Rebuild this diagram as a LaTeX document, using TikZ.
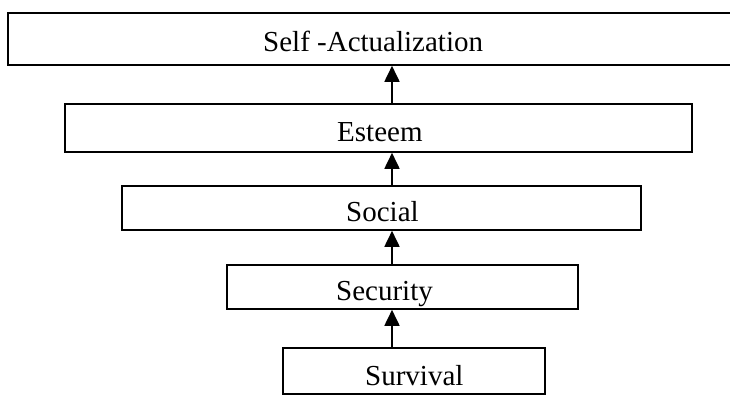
\documentclass[tikz,border=0pt]{standalone}
\usepackage{fontspec}
\setmainfont{Liberation Serif}
\usetikzlibrary{arrows.meta,positioning,calc}

\begin{document}
\begin{tikzpicture}[
    x=1pt, y=-1pt,
    box/.style={draw, rectangle, line width=1.6pt, inner sep=0pt},
    label/.style={anchor=base west, inner sep=0pt, font=\fontsize{29}{34}\selectfont},
    arrow/.style={-{Triangle[length=16pt,width=15pt]}, line width=1.8pt}
  ]
    \useasboundingbox (0,0) rectangle (730,395);
    \coordinate (axis) at (392,0);

    % the five levels, widest on top
    \node[box, minimum width=732pt, minimum height=52pt] (selfact) at (374,39) {};
    \node[box, minimum width=627pt, minimum height=48pt] (esteem) at (378.5,128) {};
    \node[box, minimum width=519pt, minimum height=44pt] (social) at (381.5,208) {};
    \node[box, minimum width=351pt, minimum height=44pt] (security) at (402.5,287) {};
    \node[box, minimum width=262pt, minimum height=46pt] (survival) at (414,371) {};

    \node[label] (selfacttext) at (263,52) {Self -Actualization};
    \node[label] (esteemtext) at (337,142) {Esteem};
    \node[label] (socialtext) at (346,222) {Social};
    \node[label] (securitytext) at (336,300) {Security};
    \node[label] (survivaltext) at (365,385) {Survival};

    \draw[arrow] (esteem.north -| axis) -- (selfact.south -| axis);
    \draw[arrow] (social.north -| axis) -- (esteem.south -| axis);
    \draw[arrow] (security.north -| axis) -- (social.south -| axis);
    \draw[arrow] (survival.north -| axis) -- (security.south -| axis);
  \end{tikzpicture}
\end{document}
